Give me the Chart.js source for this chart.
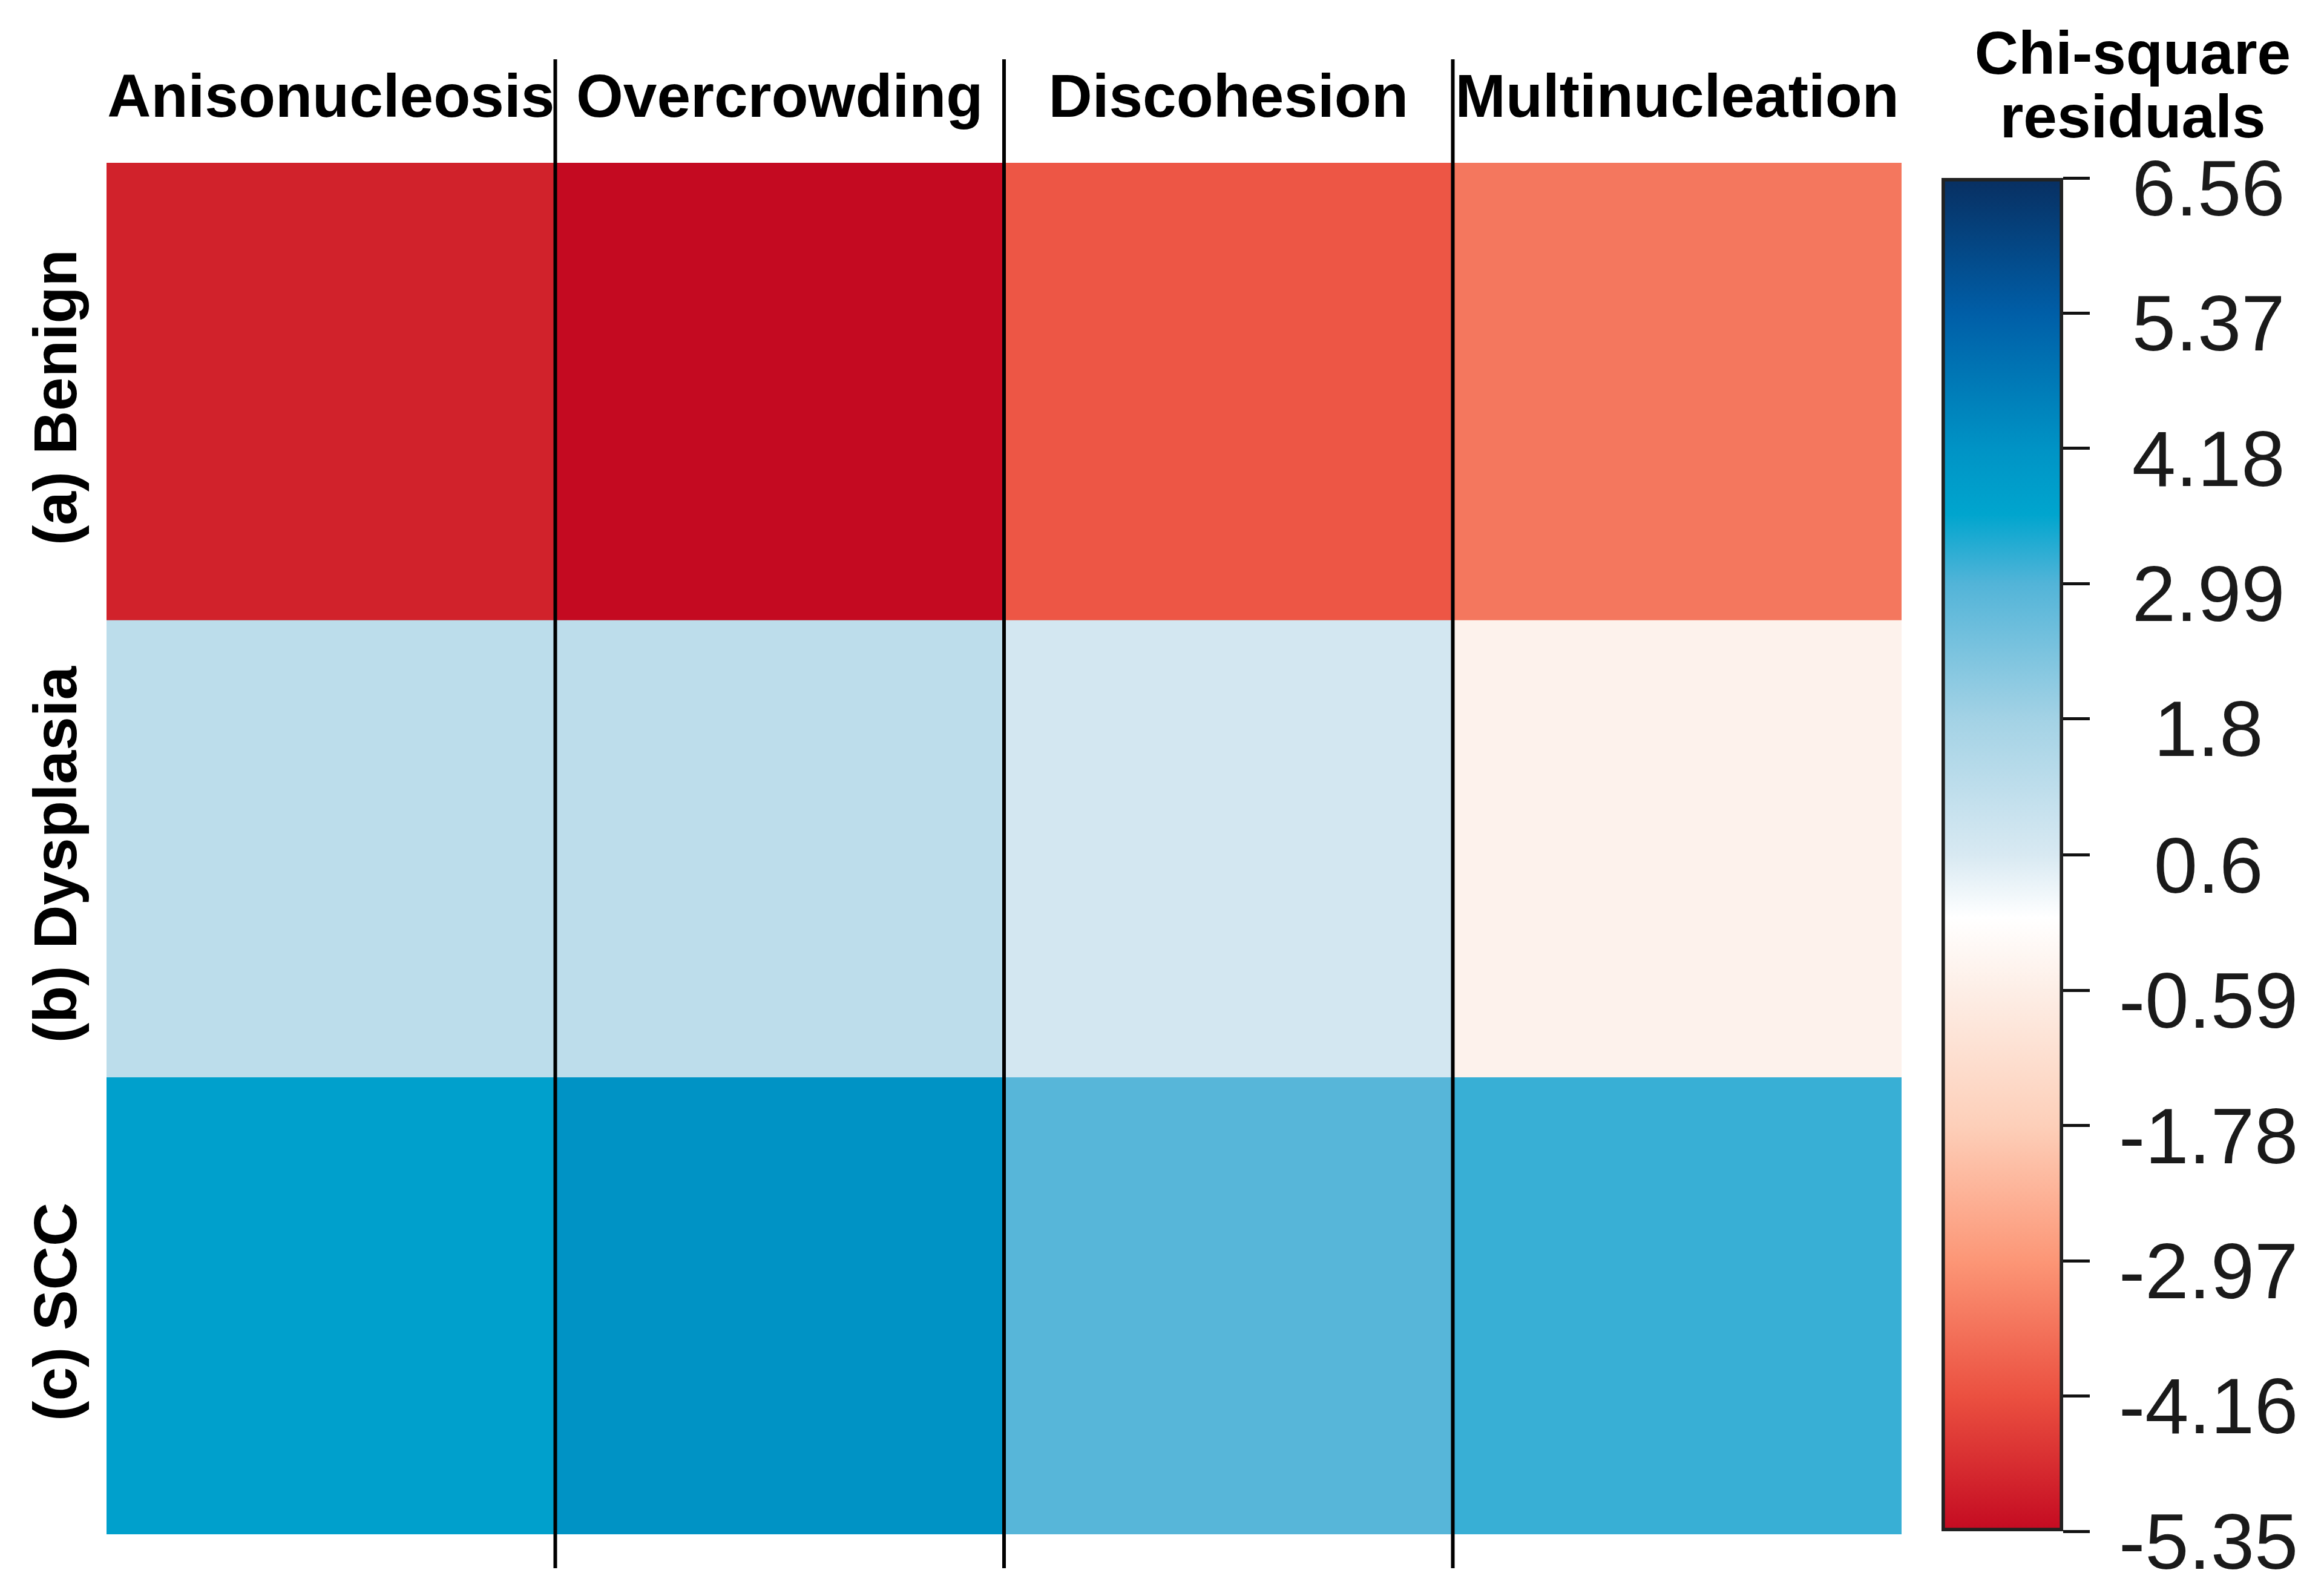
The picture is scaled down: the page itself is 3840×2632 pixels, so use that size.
<!DOCTYPE html>
<html>
<head>
<meta charset="utf-8">
<script src="https://cdn.jsdelivr.net/npm/chart.js@4.4.0/dist/chart.umd.min.js"></script>
<style>
html,body{margin:0;padding:0;background:#fff;}
#wrap{position:relative;width:3840px;height:2632px;overflow:hidden;background:#fff;}
#heat{position:absolute;left:0;top:0;}
#bar{position:absolute;left:3150px;top:0;}
</style>
</head>
<body>
<div id="wrap">
<canvas id="heat" width="3200" height="2632"></canvas>
<canvas id="bar" width="690" height="2632"></canvas>
</div>
<script>
const columns = ['Anisonucleosis', 'Overcrowding', 'Discohesion', 'Multinucleation'];
const rows = ['(a) Benign', '(b) Dysplasia', '(c) SCC'];
const benign = [-4.95, -5.35, -4.05, -3.5];
const dysplasia = [1.24, 1.22, 0.71, -0.44];
const scc = [3.76, 4.18, 2.92, 3.18];
const scaleTicks = [-5.35, -4.16, -2.97, -1.78, -0.59, 0.6, 1.8, 2.99, 4.18, 5.37, 6.56];
const scaleTickLabels = ['-5.35', '-4.16', '-2.97', '-1.78', '-0.59', '0.6', '1.8', '2.99', '4.18', '5.37', '6.56'];

// colour scale of the legend bar
const stopValues = [-5.35, -4.16, -2.97, -1.78, -0.59, 0.05, 0.6, 1.8, 2.99, 3.6, 4.18, 5.37, 6.56];
const stopColors = ['#c40a21', '#eb5040', '#fc9676', '#fdcfb9', '#fdeee6', '#ffffff', '#d8e9f2',
                    '#a3d2e5', '#52b4d8', '#00a5ce', '#0093c5', '#005ea7', '#082f61'];

const fontFamily = "'Liberation Sans', Arial, sans-serif";
Chart.defaults.font.family = fontFamily;

const hexToRgb = h => [1, 3, 5].map(i => parseInt(h.substr(i, 2), 16));

const colorFor = v => {
    let i = 0;
    while (i < stopValues.length - 2 && v > stopValues[i + 1]) i++;
    const t = Math.min(1, Math.max(0, (v - stopValues[i]) / (stopValues[i + 1] - stopValues[i])));
    const a = hexToRgb(stopColors[i]), b = hexToRgb(stopColors[i + 1]);
    const c = a.map((x, k) => Math.round(x + (b[k] - x) * t));
    return 'rgb(' + c.join(',') + ')';
};

const rowValues = [benign, dysplasia, scc];

const heatDatasets = rows.map((name, r) => ({
    label: name,
    data: rowValues[r].map(() => [rows.length - r - 1, rows.length - r]),
    backgroundColor: rowValues[r].map(colorFor),
    borderWidth: 0,
    barPercentage: 1,
    categoryPercentage: 1,
    grouped: false
}));

const dividers = {
    id: 'dividers',
    afterDatasetsDraw(chart) {
        const ctx = chart.ctx, x = chart.scales.x, y = chart.scales.y, area = chart.chartArea;
        ctx.save();
        ctx.strokeStyle = '#000';
        ctx.lineWidth = 6;
        for (let i = 1; i < columns.length; i++) {
            const px = (x.getPixelForValue(i - 1) + x.getPixelForValue(i)) / 2;
            ctx.beginPath();
            ctx.moveTo(px, area.top - 171);
            ctx.lineTo(px, area.bottom + 56);
            ctx.stroke();
        }
        ctx.fillStyle = '#000';
        ctx.font = 'bold 100px ' + fontFamily;
        ctx.textAlign = 'center';
        ctx.textBaseline = 'middle';
        rows.forEach((name, r) => {
            ctx.save();
            ctx.translate(98, y.getPixelForValue(rows.length - r - 0.5) + 10);
            ctx.rotate(-Math.PI / 2);
            ctx.fillText(name, 0, 0);
            ctx.restore();
        });
        ctx.restore();
    }
};

new Chart(document.getElementById('heat'), {
    type: 'bar',
    data: { labels: columns, datasets: heatDatasets },
    options: {
        responsive: false,
        devicePixelRatio: 1,
        animation: false,
        events: [],
        layout: { padding: { left: 0, top: 0, right: 58, bottom: 97 } },
        plugins: { legend: { display: false }, tooltip: { enabled: false } },
        scales: {
            x: {
                position: 'top',
                afterFit: s => { s.height = 269; },
                grid: { display: false, drawTicks: false },
                border: { display: false },
                ticks: { font: { size: 100, weight: 'bold' }, color: '#000', padding: 44,
                         autoSkip: false, maxRotation: 0, minRotation: 0 }
            },
            y: {
                min: 0, max: rows.length,
                afterFit: s => { s.width = 176; },
                ticks: { display: false },
                grid: { display: false },
                border: { display: false }
            }
        }
    },
    plugins: [dividers]
});

const gradientFill = c => {
    const chart = c.chart, y = chart.scales.y;
    if (!chart.chartArea || !y) return stopColors[0];
    const g = chart.ctx.createLinearGradient(0, y.getPixelForValue(y.min), 0, y.getPixelForValue(y.max));
    stopValues.forEach((v, i) => g.addColorStop((v - y.min) / (y.max - y.min), stopColors[i]));
    return g;
};

new Chart(document.getElementById('bar'), {
    type: 'bar',
    data: {
        labels: [''],
        datasets: [{
            data: [[scaleTicks[0], scaleTicks[scaleTicks.length - 1]]],
            backgroundColor: gradientFill,
            borderColor: '#222',
            borderWidth: 6,
            borderSkipped: false,
            barPercentage: 1,
            categoryPercentage: 1
        }]
    },
    options: {
        responsive: false,
        devicePixelRatio: 1,
        animation: false,
        events: [],
        layout: { padding: { left: 58, right: 0, top: 0, bottom: 102 } },
        plugins: {
            legend: { display: false },
            tooltip: { enabled: false },
            title: {
                display: true,
                text: ['Chi-square', 'residuals'],
                color: '#000',
                font: { size: 100, weight: 'bold', lineHeight: 1.05 },
                padding: { top: 42, bottom: 42 }
            }
        },
        scales: {
            x: { display: false },
            y: {
                position: 'right',
                min: scaleTicks[0],
                max: scaleTicks[scaleTicks.length - 1],
                afterBuildTicks: s => { s.ticks = scaleTicks.map(v => ({ value: v })); },
                afterFit: s => { s.width = 431; },
                // empty first line pushes each label a little below its tick, as in the figure
                ticks: { callback: (v, i) => ['', scaleTickLabels[i]], font: { size: 130, lineHeight: 0.4 },
                         color: '#1a1a1a', padding: 48, crossAlign: 'center' },
                grid: { drawOnChartArea: false, drawTicks: true, tickLength: 44, color: '#111', lineWidth: 5 },
                border: { display: false }
            }
        }
    }
});
</script>
</body>
</html>
